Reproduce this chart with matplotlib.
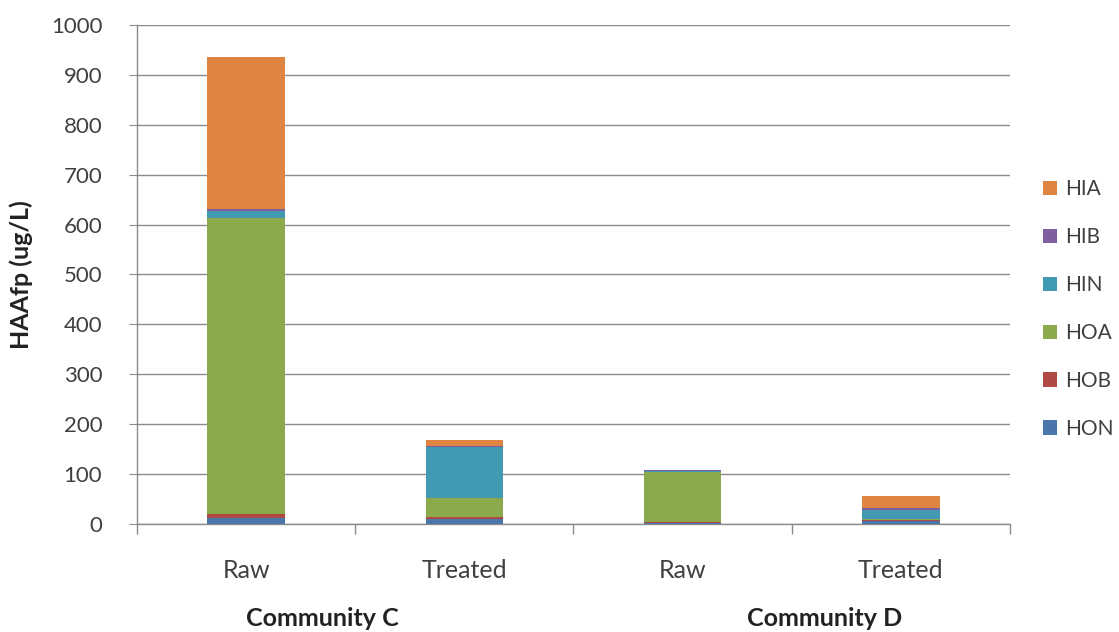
import matplotlib
matplotlib.use("Agg")
import matplotlib.pyplot as plt
from matplotlib.patches import Patch
import numpy as np

plt.rcParams['font.family'] = ['Lato', 'DejaVu Sans']

categories = ["Raw", "Treated", "Raw", "Treated"]
groups = ["Community C", "Community D"]
fractions = ["HON", "HOB", "HOA", "HIN", "HIB", "HIA"]

HON = [13, 11, 1, 5]
HOB = [8, 3, 3, 3]
HOA = [592, 38, 101, 1]
HIN = [14, 103, 2, 20]
HIB = [5, 2, 1, 3]
HIA = [303, 11, 1, 25]

colors = {
    "HON": "#4A76AC",
    "HOB": "#B04844",
    "HOA": "#8AAA4C",
    "HIN": "#4299B2",
    "HIB": "#7D5F9E",
    "HIA": "#DE8641",
}

series = {"HON": HON, "HOB": HOB, "HOA": HOA, "HIN": HIN, "HIB": HIB, "HIA": HIA}

fig = plt.figure(figsize=(11.19, 6.32), dpi=100)
ax = fig.add_axes([0.1224, 0.1709, 0.7802, 0.7896])

x = np.arange(len(categories))
bottom = np.zeros(len(categories))
for name in fractions:
    vals = np.array(series[name], dtype=float)
    ax.bar(x, vals, width=0.355, bottom=bottom, color=colors[name], zorder=3)
    bottom += vals

ax.set_xlim(-0.5, 3.5)
ax.set_ylim(0, 1000)
ax.set_yticks(np.arange(0, 1001, 100))
ax.yaxis.grid(True, color="#8c8c8c", linewidth=1.0, zorder=0)
ax.set_axisbelow(True)

for s in ["top", "right"]:
    ax.spines[s].set_visible(False)
for s in ["left", "bottom"]:
    ax.spines[s].set_color("#8c8c8c")
    ax.spines[s].set_linewidth(1.0)

ax.set_xticks(x)
ax.set_xticklabels(categories, fontsize=18)
ax.tick_params(axis="x", which="major", length=0, pad=25, colors="#404040")
ax.set_xticks(np.arange(-0.5, 3.6, 1.0), minor=True)
ax.tick_params(axis="x", which="minor", length=7, color="#8c8c8c", width=1.0)
ax.tick_params(axis="y", length=6, color="#8c8c8c", labelsize=16,
               labelcolor="#404040", pad=19)

fig.text(0.019, 0.565, "HAAfp (ug/L)", rotation=90, ha="center", va="center",
         fontsize=18, fontweight="bold", color="#222222")

for label, xf in zip(groups, [0.288, 0.737]):
    fig.text(xf, 0.022, label, ha="center", va="center", fontsize=18,
             fontweight="bold", color="#222222")

handles = [Patch(facecolor=colors[n], label=n) for n in reversed(fractions)]
fig.legend(handles=handles, loc="center left", bbox_to_anchor=(0.9155, 0.511),
           frameon=False, fontsize=15, handlelength=0.68, handleheight=0.68,
           handletextpad=0.35, labelspacing=1.34, labelcolor="#404040")

fig.savefig("out.png", dpi=100)
